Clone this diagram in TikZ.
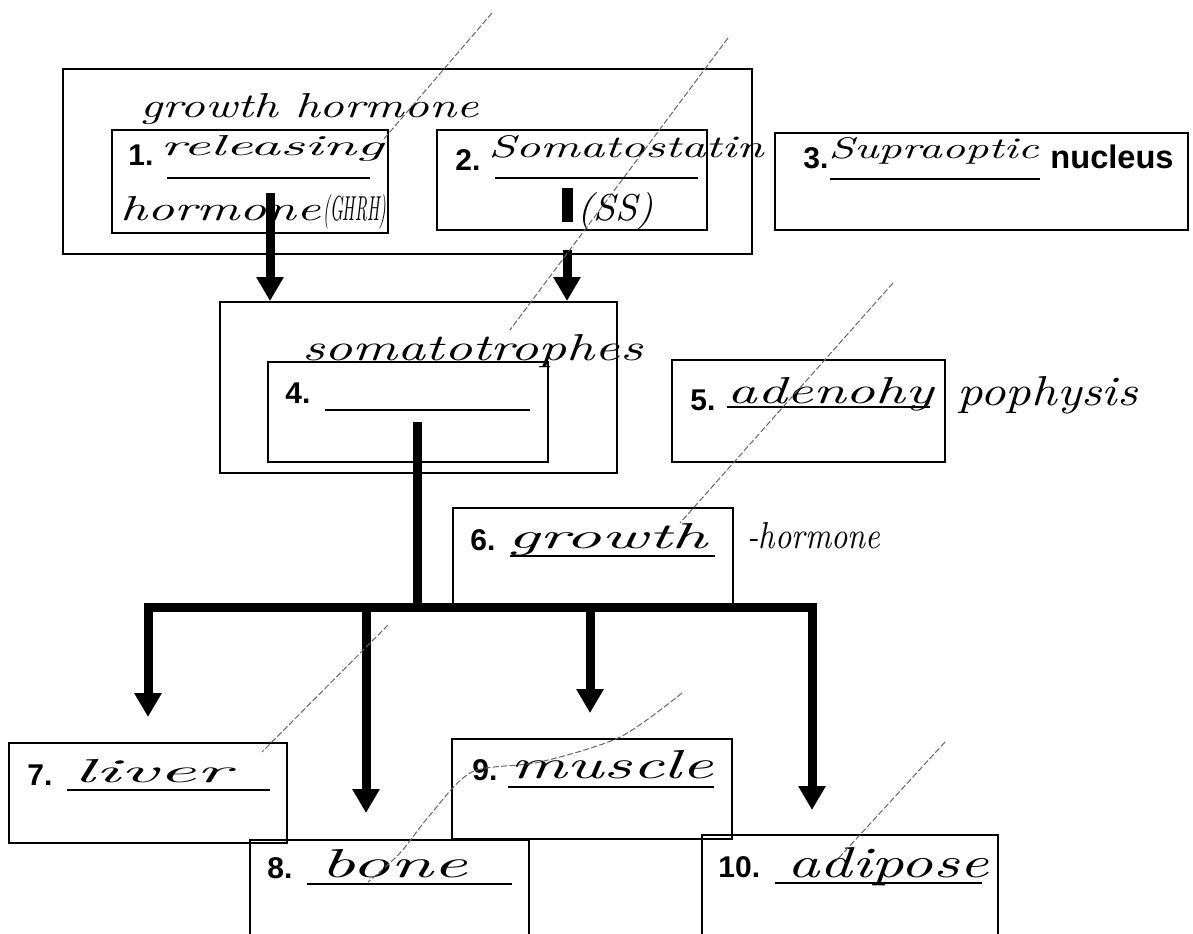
\documentclass[tikz,border=0pt]{standalone}
\usepackage{fontspec}
\usepackage{graphicx}
\usetikzlibrary{arrows.meta,fit,calc}
\newfontfamily\printfont{Liberation Sans}
\newcommand{\hw}[3]{\resizebox{#1pt}{#2pt}{\itshape #3}}
\begin{document}
\begin{tikzpicture}[x=0.5pt,y=-0.5pt,
  box/.style={draw, line width=1pt, inner sep=0pt},
  bigarrow/.style={line width=4.5pt, -{Triangle[width=13pt,length=12pt]}},
  bigline/.style={line width=4.5pt},
  blank/.style={line width=1pt},
  hand/.style={anchor=base west, inner sep=0pt},
  lab/.style={anchor=base west, inner sep=0pt, font=\printfont\bfseries\fontsize{15pt}{15pt}\selectfont},
  stray/.style={draw=black!60, line width=0.5pt, dash pattern=on 3pt off 1.2pt}]
\useasboundingbox (0,0) rectangle (1193,933);
\fill[white] (0,0) rectangle (1193,933);
\clip (0,0) rectangle (1193,933);

% boxes
\node[box, fit={(63,69) (752,254)}] (A) {};
\node[box, fit={(112,130) (388,233)}] (n1) {};
\node[box, fit={(437,130) (707,230)}] (n2) {};
\node[box, fit={(775,133) (1188,230)}] (n3) {};
\node[box, fit={(220,302) (617,473)}] (B) {};
\node[box, fit={(268,362) (548,462)}] (n4) {};
\node[box, fit={(672,360) (945,462)}] (n5) {};
\node[box, fit={(453,508) (733,607)}] (n6) {};
\node[box, fit={(9,743) (287,843)}] (n7) {};
\node[box, fit={(452,739) (732,839)}] (n9) {};
\node[box, fit={(250,840) (529,960)}] (n8) {};
\node[box, fit={(702,835) (998,960)}] (n10) {};

% printed labels
\node[lab] (l1) at (128,165) {1.};
\node[lab] (l2) at (455,170) {2.};
\node[lab] (l3) at (803,168) {3.};
\node[lab, font=\printfont\bfseries\fontsize{16.3pt}{16pt}\selectfont] (nuc) at (1050,168) {nucleus};
\node[lab] (l4) at (285,403) {4.};
\node[lab] (l5) at (690,410) {5.};
\node[lab] (l6) at (470,550) {6.};
\node[lab] (l7) at (27,785) {7.};
\node[lab] (l8) at (267,878) {8.};
\node[lab] (l9) at (472,780) {9.};
\node[lab] (l10) at (718,877) {10.};

% answer blanks
\draw[blank] (167,178) -- (370,178);
\draw[blank] (495,178) -- (698,178);
\draw[blank] (830,179) -- (1040,179);
\draw[blank] (325,410) -- (530,410);
\draw[line width=1.4pt] (727,407) -- (930,407);
\draw[blank] (510,556) -- (715,556);
\draw[blank] (67,790) -- (270,790);
\draw[blank] (307,884) -- (512,884);
\draw[blank] (508,787) -- (714,787);
\draw[blank] (775,883) -- (982,883);

% handwriting
\node[hand] (h1) at (140,117) {\hw{169}{12}{growth hormone}};
\node[hand] (h2) at (160,155) {\hw{111.5}{10}{releasing}};
\node[hand] (h3a) at (120,220) {\hw{100}{12}{hormone}};
\node[hand] (h3b) at (323,220) {\hw{31.5}{13}{(GHRH)}};
\node[hand] (h4) at (488,157) {\hw{137.5}{11}{Somatostatin}};
\node[hand] (h5) at (577,220) {\hw{38}{14}{(SS)}};
\node[hand] (h6) at (828,158) {\hw{105}{10.5}{Supraoptic}};
\node[hand] (h7) at (302,360) {\hw{170}{13}{somatotrophes}};
\node[hand] (h8) at (727,403) {\hw{103}{13}{adenohy}};
\node[hand] (h9) at (957,405) {\hw{90}{14.5}{pophysis}};
\node[hand] (h10) at (507,548) {\hw{100}{12.5}{growth}};
\node[hand] (h11) at (747,548) {\hw{66.5}{13}{-hormone}};
\node[hand] (h12) at (73,782) {\hw{78.5}{11.5}{liver}};
\node[hand] (h13) at (320,877) {\hw{73.5}{14}{bone}};
\node[hand] (h14) at (510,778) {\hw{101.5}{14}{muscle}};
\node[hand] (h15) at (787,877) {\hw{100.5}{15}{adipose}};

% connectors
\fill (562,188) rectangle (573,222);
\coordinate (a1s) at (270,193);
\coordinate (a2s) at (567,250);
\draw[bigarrow] (a1s) -- (a1s |- B.north);
\draw[bigarrow] (a2s) -- (a2s |- B.north);
\coordinate (s4) at (417,422);
\coordinate (bus) at (417,607);
\coordinate (t7) at (148,717);
\coordinate (t8) at (366,813);
\coordinate (t9) at (590,713);
\coordinate (t10) at (812,810);
\draw[bigline] (s4) -- (bus);
\draw[bigarrow] (bus) -| (t7);
\draw[bigarrow] (bus) -| (t8);
\draw[bigarrow] (bus) -| (t9);
\draw[bigarrow] (bus) -| (t10);

% stray pencil strokes
\draw[stray] (492,13) -- (383,140);
\draw[stray] (728,38) -- (510,330);
\draw[stray] (893,283) -- (680,523);
\draw[stray] (388,625) -- (262,752);
\draw[stray] plot[smooth] coordinates {(682,693) (620,737) (540,762) (472,772) (430,815) (400,853) (368,882)};
\draw[stray] (945,742) -- (835,862);
\end{tikzpicture}
\end{document}
